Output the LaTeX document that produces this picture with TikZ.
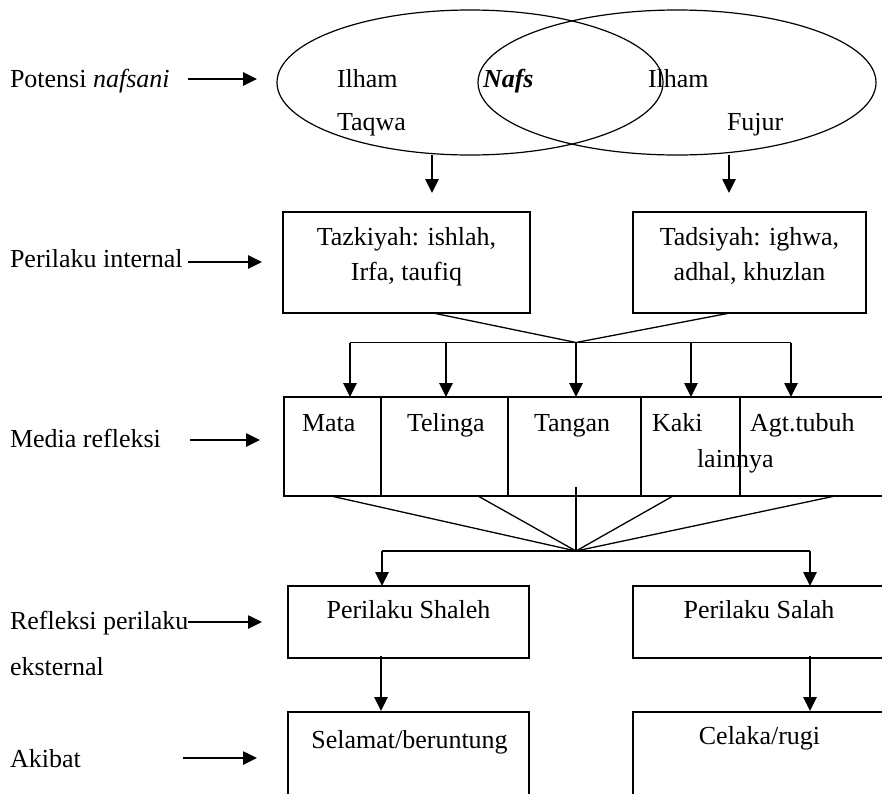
\documentclass[tikz,border=0pt]{standalone}
\usepackage{fontspec}
\setmainfont{Liberation Serif}
\usetikzlibrary{shapes.geometric,arrows.meta}
\begin{document}
\begin{tikzpicture}[x=1pt,y=-1pt,
  every node/.style={font=\fontsize{26}{31}\selectfont, inner sep=0pt, outer sep=0pt},
  txt/.style={anchor=base west},
  ctxt/.style={anchor=base},
  box/.style={draw, line width=1.4pt, anchor=north west},
  conn/.style={line width=1.3pt},
  bar/.style={line width=1.8pt},
  arr/.style={line width=2.6pt, -{Triangle[length=14pt,width=13pt]}},
  oval/.style={draw, ellipse, line width=1.2pt}]
\useasboundingbox (0,0) rectangle (882,793);

% ---------- ellipses ----------
\node[oval, minimum width=386pt, minimum height=145pt] (ellL) at (470,82.5) {};
\node[oval, minimum width=398pt, minimum height=145pt] (ellR) at (677,82.5) {};
\node[txt] (ilhamL) at (337,87) {Ilham};
\node[txt] (taqwa) at (337,130) {Taqwa};
\node[txt] (nafs) at (483,87) {\textbf{\textit{Nafs}}};
\node[txt] (ilhamR) at (648,87) {Ilham};
\node[txt] (fujur) at (727,130) {Fujur};

% ---------- left labels ----------
\node[txt] (l1) at (10,87) {Potensi \textit{nafsani}};
\node[txt] (l2) at (10,267) {Perilaku internal};
\node[txt] (l3) at (10,447) {Media refleksi};
\node[txt] (l4) at (10,629) {Refleksi perilaku};
\node[txt] (l4b) at (10,675) {eksternal};
\node[txt] (l5) at (10,767) {Akibat};

\coordinate (a1s) at (188,79);  \coordinate (a1e) at (257,79);
\coordinate (a2s) at (188,262); \coordinate (a2e) at (262,262);
\coordinate (a3s) at (190,440); \coordinate (a3e) at (260,440);
\coordinate (a4s) at (188,622); \coordinate (a4e) at (262,622);
\coordinate (a5s) at (183,758); \coordinate (a5e) at (257,758);
\foreach \n in {1,...,5} \draw[arr] (a\n s) -- (a\n e);

% ---------- internal boxes ----------
\node[box, minimum width=247pt, minimum height=101pt] (taz) at (283,212) {};
\node[box, minimum width=233pt, minimum height=101pt] (tad) at (633,212) {};
\node[ctxt] (tazt1) at (406.5,245) {Tazkiyah: ishlah,};
\node[ctxt] (tazt2) at (406.5,280) {Irfa, taufiq};
\node[ctxt] (tadt1) at (749.5,245) {Tadsiyah: ighwa,};
\node[ctxt] (tadt2) at (749.5,280) {adhal, khuzlan};

\coordinate (eL) at (432,155); \coordinate (eLe) at (432,193);
\coordinate (eR) at (729,155); \coordinate (eRe) at (729,193);
\draw[arr] (eL) -- (eLe);
\draw[arr] (eR) -- (eRe);

% ---------- split to media ----------
\coordinate (j1) at (576,342.5);
\coordinate (tazb) at (433,313);
\coordinate (tadb) at (730,313);
\draw[conn] (tazb) -- (j1) -- (tadb);
\coordinate (b1L) at (350,342.5);
\coordinate (b1R) at (791,342.5);
\draw[bar] (b1L) -- (b1R);
\foreach \x [count=\i] in {350,446,576,691,791}{
  \coordinate (m\i s) at (\x,342.5);
  \coordinate (m\i e) at (\x,397);
  \draw[arr] (m\i s) -- (m\i e);
}

% ---------- media box ----------
\node[box, minimum width=620pt, minimum height=99pt] (media) at (284,397) {};
\foreach \x in {381,508,641,740} \draw[line width=1.3pt] (\x,397) -- (\x,496);
\node[txt] (mata) at (302,431) {Mata};
\node[txt] (telinga) at (407,431) {Telinga};
\node[txt] (tangan) at (534,431) {Tangan};
\node[txt] (kaki) at (652,431) {Kaki};
\node[txt] (agt) at (750,431) {Agt.tubuh};
\node[txt] (lain) at (697,467) {lainnya};

% ---------- merge ----------
\coordinate (j2) at (576,551);
\coordinate (mb1) at (331,496);
\coordinate (mb2) at (478,496);
\coordinate (mb3) at (576,487);
\coordinate (mb4) at (673,496);
\coordinate (mb5) at (835,496);
\foreach \i in {1,...,5} \draw[conn] (mb\i) -- (j2);
\coordinate (b2L) at (382,551);
\coordinate (b2R) at (810,551);
\draw[bar] (b2L) -- (b2R);
\coordinate (b2Le) at (382,586);
\coordinate (b2Re) at (810,586);
\draw[arr] (b2L) -- (b2Le);
\draw[arr] (b2R) -- (b2Re);

% ---------- external behaviour ----------
\node[box, minimum width=241pt, minimum height=72pt] (shaleh) at (288,586) {};
\node[box, minimum width=280pt, minimum height=72pt] (salah) at (633,586) {};
\node[ctxt] (shalehT) at (408.5,618) {Perilaku Shaleh};
\node[ctxt] (salahT) at (759,618) {Perilaku Salah};

\coordinate (s1) at (381,656); \coordinate (s1e) at (381,711);
\coordinate (s2) at (810,656); \coordinate (s2e) at (810,711);
\draw[arr] (s1) -- (s1e);
\draw[arr] (s2) -- (s2e);

% ---------- results (open at bottom) ----------
\draw[line width=1.4pt] (288,810) -- (288,712) -- (529,712) -- (529,810);
\draw[line width=1.4pt] (633,810) -- (633,712) -- (900,712);
\node[ctxt] (selamat) at (409.5,748) {Selamat/beruntung};
\node[ctxt] (celaka) at (759.5,744) {Celaka/rugi};
\end{tikzpicture}
\end{document}
